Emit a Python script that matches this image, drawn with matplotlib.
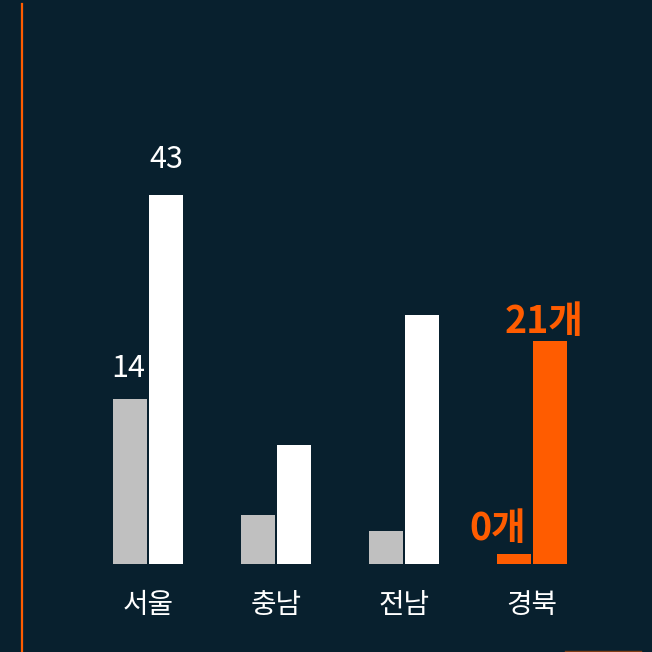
import matplotlib
matplotlib.use("Agg")
import matplotlib.pyplot as plt
import numpy as np

plt.rcParams['font.family'] = ['Noto Sans CJK KR', 'DejaVu Sans']

# data (bar heights, in units of the "43" bar)
regions = ["서울", "충남", "전남", "경북"]
before = [19.2, 5.7, 3.8, 1.2]
after = [43, 13.9, 29, 26]
before_labels = ["14", "", "", "0개"]
after_labels = ["43", "", "", "21개"]

bg = "#08202e"
orange = "#ff5c00"
grey = "#c0c0c0"

fig = plt.figure(figsize=(6.52, 6.52), dpi=100, facecolor=bg)
ax = fig.add_axes([0, 0, 1, 1])
ax.set_facecolor(bg)

x = np.arange(len(regions))
w = 34 / 128
off = 18 / 128
c_before = [grey, grey, grey, orange]
c_after = ["white", "white", "white", orange]
ax.bar(x - off, before, width=w, color=c_before)
ax.bar(x + off, after, width=w, color=c_after)

ax.set_xlim(-148 / 128, 504 / 128)
ax.set_ylim(-88 / 8.58, 564 / 8.58)

# label offsets in pixels (dx, dy above bar top)
before_off = [(-2, 22), None, None, (-16, 14)]
after_off = [(0, 27), None, None, (-6, 8)]

for i in range(len(regions)):
    hl = i == 3
    col = orange if hl else "white"
    fw = "bold" if hl else "normal"
    fs = 27 if hl else 22
    if before_labels[i]:
        ax.annotate(before_labels[i], (x[i] - off, before[i]), xytext=before_off[i],
                    textcoords="offset pixels", ha="center", va="baseline",
                    color=col, fontsize=fs, fontweight=fw)
    if after_labels[i]:
        ax.annotate(after_labels[i], (x[i] + off, after[i]), xytext=after_off[i],
                    textcoords="offset pixels", ha="center", va="baseline",
                    color=col, fontsize=fs, fontweight=fw)
    ax.annotate(regions[i], (x[i], 0), xytext=(0, -49), textcoords="offset pixels",
                ha="center", va="baseline", color="white", fontsize=20)

ax.axis("off")
# decorative lines
fig.add_artist(plt.Line2D([22 / 652, 22 / 652], [0, 648 / 652], color=orange, lw=1.6))
fig.add_artist(plt.Line2D([565 / 652, 641 / 652], [1 / 652, 1 / 652], color=orange, lw=1, alpha=0.5))

fig.savefig("out.png", dpi=100, facecolor=bg)
